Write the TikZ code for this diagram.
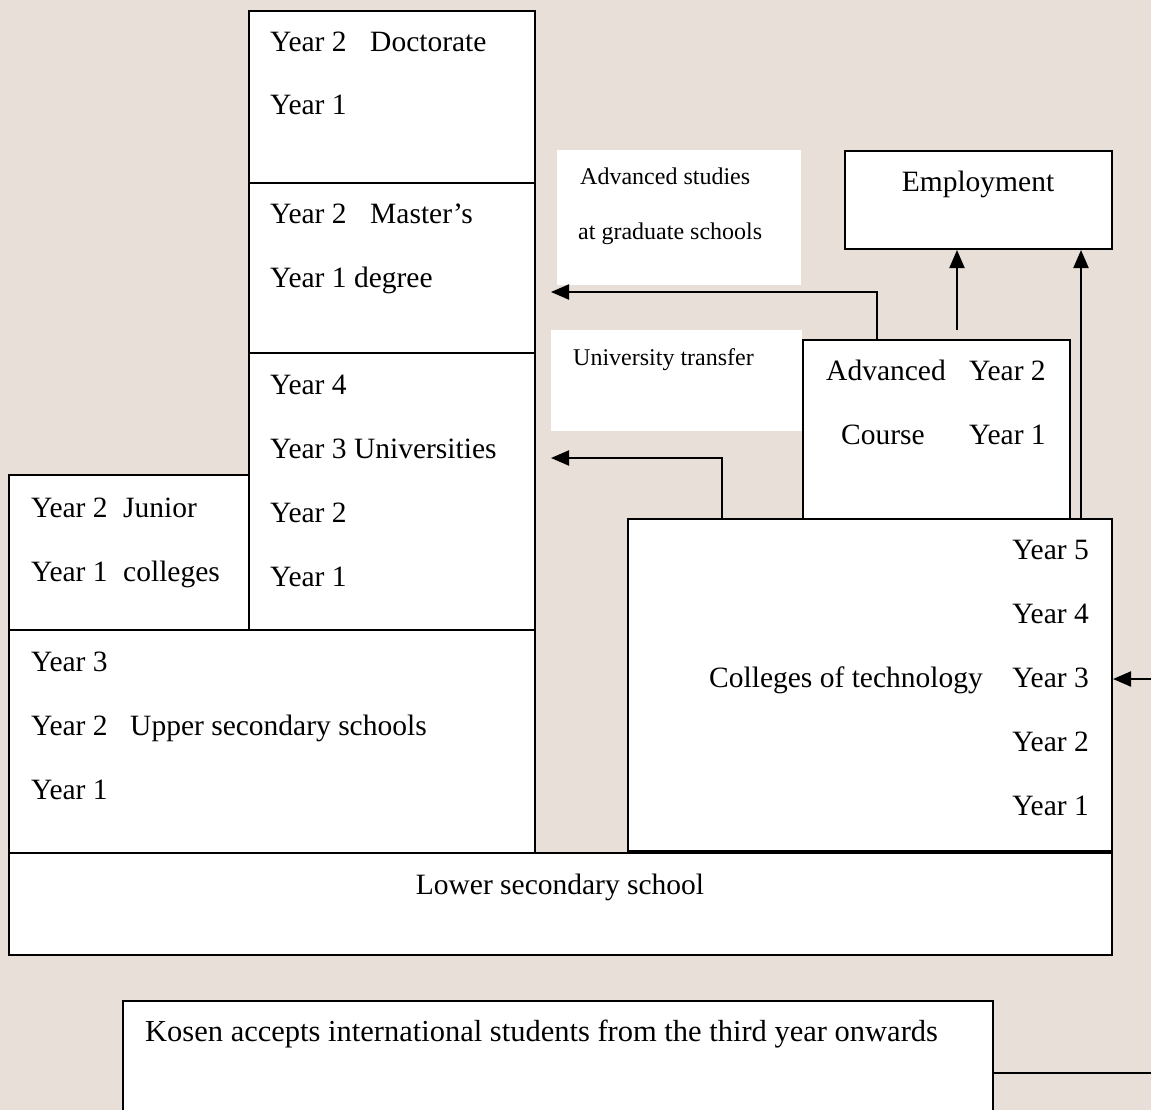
\documentclass[tikz,border=0pt]{standalone}
\usepackage{fontspec}
\setmainfont{Liberation Serif}
\usetikzlibrary{arrows.meta}
\definecolor{paper}{RGB}{232,224,216}
\begin{document}
\begin{tikzpicture}[x=1pt,y=-1pt,
  box/.style={draw=black,fill=white,line width=2pt,anchor=north west,inner sep=0pt},
  wbox/.style={fill=white,anchor=north west,inner sep=0pt},
  lbl/.style={anchor=base west,inner sep=0pt,font=\fontsize{29.5}{34}\selectfont},
  rlbl/.style={anchor=base east,inner sep=0pt,font=\fontsize{29.5}{34}\selectfont},
  slbl/.style={anchor=base west,inner sep=0pt,font=\fontsize{24}{28}\selectfont},
  arr/.style={line width=2pt,-{Triangle[length=18pt,width=15pt]}},
  conn/.style={line width=2pt}]
\useasboundingbox (0,0) rectangle (1151,1110);
\clip (0,0) rectangle (1151,1110);
\fill[paper] (0,0) rectangle (1151,1110);

% white label backgrounds
\node[wbox,minimum width=244pt,minimum height=135pt] (advbg) at (557,150) {};
\node[wbox,minimum width=251pt,minimum height=101pt] (utbg) at (551,330) {};

% boxes
\node[box,minimum width=286pt,minimum height=172pt] (doc) at (248,10) {};
\node[box,minimum width=286pt,minimum height=170pt] (mas) at (248,182) {};
\node[box,minimum width=286pt,minimum height=277pt] (uni) at (248,352) {};
\node[box,minimum width=240pt,minimum height=155pt] (jun) at (8,474) {};
\node[box,minimum width=526pt,minimum height=223pt] (upp) at (8,629) {};
\node[box,minimum width=484pt,minimum height=332pt] (kos) at (627,518) {};
\node[box,minimum width=1103pt,minimum height=102pt] (low) at (8,852) {};
\node[box,minimum width=267pt,minimum height=179pt] (advc) at (802,339) {};
\node[box,minimum width=267pt,minimum height=98pt] (emp) at (844,150) {};
\node[box,minimum width=870pt,minimum height=140pt] (note) at (122,1000) {};

% connectors
\coordinate (tgA) at (551,292);
\coordinate (tgB) at (551,458);
\coordinate (srcE) at (957,330);
\coordinate (srcR) at (1151,679);
\coordinate (endN) at (1151,1073);
\draw[arr] (advc.north -| 877,0) |- (tgA);
\draw[arr] (kos.north -| 722,0) |- (tgB);
\draw[arr] (srcE) -- (emp.south -| srcE);
\draw[arr] (kos.north -| 1081,0) -- (emp.south -| 1081,0);
\draw[arr] (srcR) -- (kos.east |- srcR);
\draw[conn] (note.east |- endN) -- (endN);

% texts
\node[lbl] (t1) at (270,52) {Year 2};
\node[lbl] (t2) at (370,52) {Doctorate};
\node[lbl] (t3) at (270,115) {Year 1};
\node[lbl] (t4) at (270,223) {Year 2};
\node[lbl] (t5) at (370,223) {Master’s};
\node[lbl] (t6) at (270,287) {Year 1 degree};
\node[lbl] (t7) at (270,394) {Year 4};
\node[lbl] (t8) at (270,458) {Year 3 Universities};
\node[lbl] (t9) at (270,522) {Year 2};
\node[lbl] (t10) at (270,586) {Year 1};
\node[lbl] (t11) at (31,517) {Year 2};
\node[lbl] (t12) at (123,517) {Junior};
\node[lbl] (t13) at (31,581) {Year 1};
\node[lbl] (t14) at (123,581) {colleges};
\node[lbl] (t15) at (31,671) {Year 3};
\node[lbl] (t16) at (31,735) {Year 2};
\node[lbl] (t17) at (130,735) {Upper secondary schools};
\node[lbl] (t18) at (31,799) {Year 1};
\node[lbl,anchor=base] (t19) at (560,894) {Lower secondary school};
\node[rlbl] (t20) at (1089,559) {Year 5};
\node[rlbl] (t21) at (1089,623) {Year 4};
\node[rlbl] (t22) at (1089,687) {Year 3};
\node[rlbl] (t23) at (1089,751) {Year 2};
\node[rlbl] (t24) at (1089,815) {Year 1};
\node[lbl] (t25) at (709,687) {Colleges of technology};
\node[lbl] (t26) at (826,380) {Advanced};
\node[lbl] (t27) at (969,380) {Year 2};
\node[lbl] (t28) at (841,444) {Course};
\node[lbl] (t29) at (969,444) {Year 1};
\node[lbl,anchor=base] (t30) at (978,192) {Employment};
\node[slbl] (t31) at (580,185) {Advanced studies};
\node[slbl] (t32) at (578,240) {at graduate schools};
\node[slbl] (t33) at (573,365) {University transfer};
\node[lbl,font=\fontsize{30.5}{35}\selectfont] (t34) at (145,1041) {Kosen accepts international students from the third year onwards};
\end{tikzpicture}
\end{document}
